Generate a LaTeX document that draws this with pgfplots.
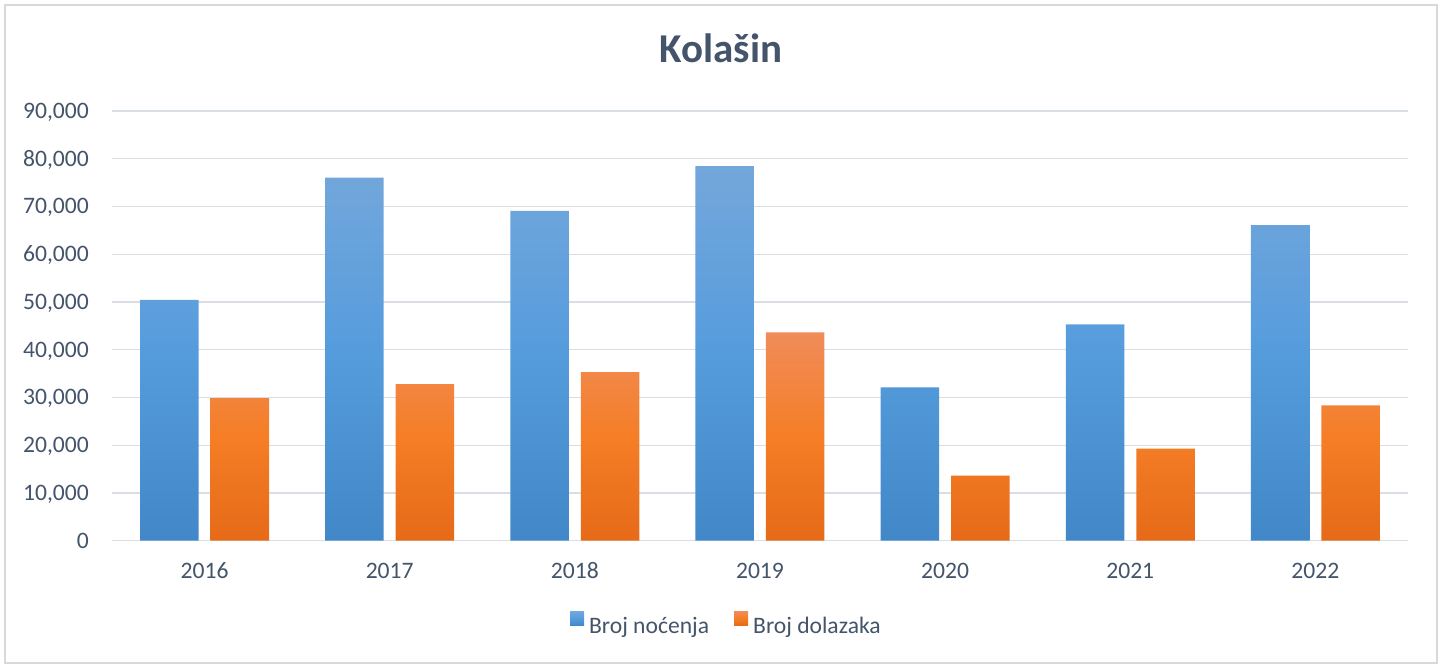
\documentclass[border=0pt]{standalone}
\usepackage{pgfplots}
\pgfplotsset{compat=1.18}
\usepackage{fontspec}
\setmainfont{Carlito}
\definecolor{txt}{HTML}{44546A}
\definecolor{gridc}{HTML}{D9DEE5}
\definecolor{borderc}{HTML}{D9D9D9}
\definecolor{btop}{RGB}{116,167,219}
\definecolor{bmid}{RGB}{85,156,221}
\definecolor{bbot}{RGB}{66,136,200}
\definecolor{otop}{RGB}{240,140,90}
\definecolor{omid}{RGB}{245,126,38}
\definecolor{obot}{RGB}{230,106,24}
\begin{document}
\begin{tikzpicture}[x=1pt,y=1pt]
\path[use as bounding box] (0,0) rectangle (1444,666);
\draw[line width=1.5pt, color=borderc] (5,3) rectangle (1437,661);
\node[anchor=base, font=\fontsize{41}{48}\selectfont\bfseries, text=txt, inner sep=0pt] at (721,603.3) {Kolašin};
\begin{axis}[
  at={(112pt,125.3pt)}, anchor=south west,
  scale only axis, width=1296pt, height=429.7pt,
  xmin=-0.5, xmax=6.5, ymin=0, ymax=90000,
  enlargelimits=false,
  xtick={0,1,2,3,4,5,6},
  xticklabels={2016,2017,2018,2019,2020,2021,2022},
  ytick={0,10000,20000,30000,40000,50000,60000,70000,80000,90000},
  scaled y ticks=false,
  /pgf/number format/.cd, fixed, 1000 sep={,}, assume math mode=true, /pgfplots/.cd,
  ymajorgrids, grid style={gridc, line width=1.2pt},
  axis x line*=bottom, axis y line*=left,
  x axis line style={gridc, line width=1.2pt, -},
  y axis line style={draw=none},
  major tick length=0pt,
  tick label style={font=\fontsize{23.6}{28}\selectfont, text=txt},
  xticklabel style={anchor=base, inner sep=0pt, yshift=-38.3pt},
  yticklabel style={anchor=base east, inner sep=0pt, xshift=-23pt, yshift=-7.5pt},
  bar width=58.5pt,
  legend columns=2,
  legend style={at={(0.4745,-0.196)}, anchor=center, draw=none, fill=none,
    font=\fontsize{23.6}{28}\selectfont, text=txt,
    nodes={inner sep=3pt},
    /tikz/every even column/.append style={column sep=22pt},
    /tikz/every odd column/.append style={column sep=2pt}},
  legend image code/.code={\path[#1] (0pt,1pt) rectangle (14pt,15pt);},
]
\addplot[ybar, bar shift=-35.25pt, draw=none, top color=btop, bottom color=bbot, middle color=bmid]
  coordinates {(0,50420) (1,76020) (2,69100) (3,78460) (4,32100) (5,45310) (6,66080)};
\addlegendentry{Broj noćenja}
\addplot[ybar, bar shift=35.25pt, draw=none, top color=otop, bottom color=obot, middle color=omid]
  coordinates {(0,29860) (1,32790) (2,35310) (3,43640) (4,13640) (5,19300) (6,28320)};
\addlegendentry{Broj dolazaka}
\end{axis}
\end{tikzpicture}
\end{document}
